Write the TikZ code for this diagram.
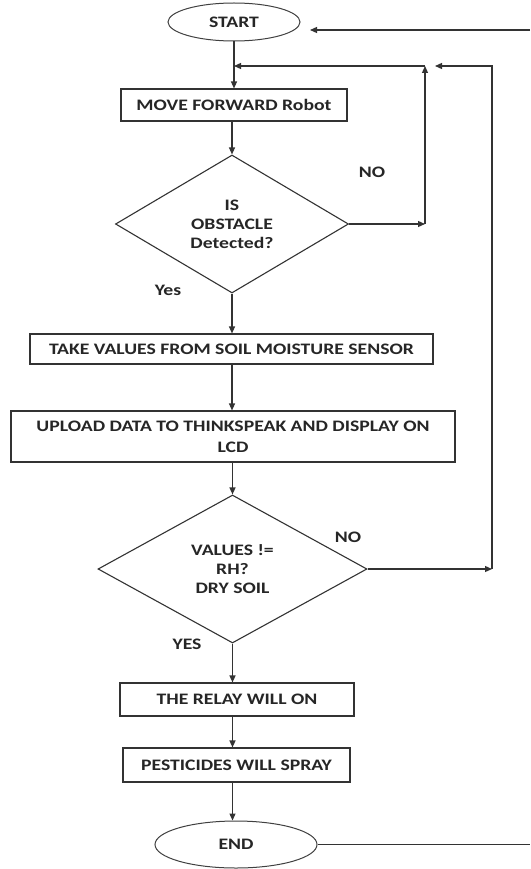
\documentclass[tikz,border=0pt]{standalone}
\usepackage{fontspec}
\newfontfamily\lbl{Carlito}[FakeStretch=1.23]
\usetikzlibrary{shapes.geometric,arrows.meta}
\begin{document}
\begin{tikzpicture}[x=1pt,y=-1pt,
  txt/.style={text=black!85, font=\lbl\bfseries\fontsize{16}{19}\selectfont, align=center},
  line/.style={draw=black!80, line width=1.2pt},
  arr/.style={line, -{Triangle[length=7pt,width=6pt]}},
  box/.style={txt, draw=black!80, line width=1.1pt, rectangle, inner sep=0pt},
  oval/.style={txt, draw=black!75, line width=1pt, ellipse, inner sep=0pt},
  dia/.style={txt, draw=black!80, line width=1.1pt, diamond, inner sep=0pt},
  lab/.style={txt}
]
\useasboundingbox (0,0) rectangle (530,869);
\fill[white] (0,0) rectangle (530,869);

\node[oval, minimum width=132pt, minimum height=38pt] (start) at (234,22) {START};
\node[box, minimum width=226pt, minimum height=32pt] (move) at (234,105) {MOVE FORWARD Robot};
\node[dia, minimum width=233pt, minimum height=138pt, aspect=1.69] (d1) at (232,224) {IS\\OBSTACLE\\Detected?};
\node[box, minimum width=403pt, minimum height=30pt] (take) at (231.5,349) {TAKE VALUES FROM SOIL MOISTURE SENSOR};
\node[box, minimum width=444pt, minimum height=51pt] (upload) at (233,436.5) {UPLOAD DATA TO THINKSPEAK AND DISPLAY ON\\[2pt]LCD};
\node[dia, minimum width=269pt, minimum height=148pt, aspect=1.82] (d2) at (232.5,569) {VALUES !=\\RH?\\DRY SOIL};
\node[box, minimum width=234pt, minimum height=33pt] (relay) at (237,699.5) {THE RELAY WILL ON};
\node[box, minimum width=227pt, minimum height=34pt] (spray) at (236.5,765) {PESTICIDES WILL SPRAY};
\node[oval, minimum width=162pt, minimum height=47pt] (end) at (236,844.5) {END};

\node[lab] (no1) at (372,172) {NO};
\node[lab] (yes1) at (168,290) {Yes};
\node[lab] (no2) at (348,537) {NO};
\node[lab] (yes2) at (187,644) {YES};

\coordinate (j1) at (425,66);
\coordinate (j2) at (492,66);
\coordinate (rs) at (530,30);
\coordinate (sa) at (310,30);
\coordinate (re) at (530,844.5);

\draw[arr] (start.south -| move.north) -- (move.north);
\draw[arr] (move.south -| d1.north) -- (d1.north);
\draw[arr] (d1.south) -- (d1.south |- take.north);
\draw[arr] (d1.south |- take.south) -- (d1.south |- upload.north);
\draw[arr] (upload.south -| d2.north) -- (d2.north);
\draw[arr] (d2.south) -- (d2.south |- relay.north);
\draw[arr] (d2.south |- relay.south) -- (d2.south |- spray.north);
\draw[arr] (d2.south |- spray.south) -- (d2.south |- end.north);

\draw[arr] (d1.east) -- (d1.east -| j1);
\draw[arr] (j1 |- d1.east) -- (j1);
\draw[arr] (j1) -- (j1 -| move.north);
\draw[arr] (d2.east) -- (d2.east -| j2);
\draw[arr] (j2 |- d2.east) -- (j2) -- ([xshift=10pt]j1);
\draw[line] (end.east) -- (re);
\draw[arr] (rs) -- (sa);
\end{tikzpicture}
\end{document}
